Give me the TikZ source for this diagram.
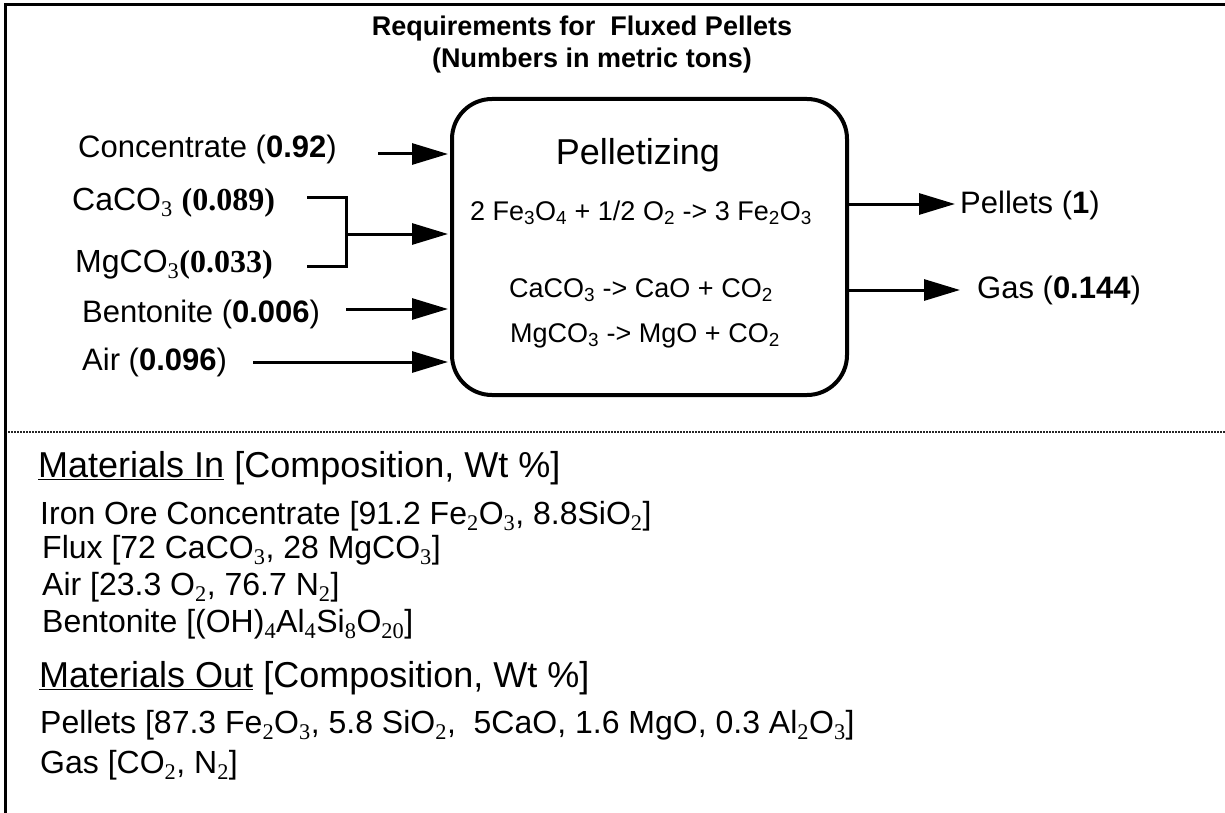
\documentclass[tikz,border=0pt]{standalone}
\usepackage{fontspec}
\setmainfont{Liberation Sans}
\newfontfamily\tms{Liberation Serif}
\usetikzlibrary{arrows.meta}
\newcommand\tsb[1]{\textsubscript{\tms #1}}
\newcommand\asb[1]{\textsubscript{#1}}
\newcommand\fsz[1]{\fontsize{#1}{#1}\selectfont}
\begin{document}
\begin{tikzpicture}[x=1pt,y=-1pt,
  lbl/.style={anchor=base west, inner sep=0pt, font=\fsz{31}},
  itm/.style={anchor=base west, inner sep=0pt, font=\fsz{32}},
  hdr/.style={anchor=base west, inner sep=0pt, font=\fsz{36}},
  rxn/.style={anchor=base, inner sep=0pt, font=\fsz{27}},
  ttl/.style={anchor=base, inner sep=0pt, font=\fsz{27}\bfseries},
  arr/.style={line width=3pt, -{Triangle[length=36pt,width=21pt]}, shorten >=2pt},
  frameline/.style={line width=3.3pt, line join=miter},
  sep/.style={line width=1.3pt, dash pattern=on 2pt off 1pt, black!85},
  procbox/.style={draw, line width=4pt, rounded corners=40pt, minimum width=395pt, minimum height=296pt, inner sep=0pt},
]
\useasboundingbox (0,0) rectangle (1225,813);
\fill[white] (0,0) rectangle (1225,813);

% frame
\draw[frameline] (5.7,813) -- (5.7,4.3) -- (1225,4.3);
% separator
\draw[sep] (8,432) -- (1225,432);

% title
\node[ttl] (t1) at (582,36) {Requirements for\ \ Fluxed Pellets};
\node[ttl] (t2) at (592,68) {(Numbers in metric tons)};

% process box
\node[procbox] (box) at (649.5,247) {};
\node[anchor=base, inner sep=0pt, font=\fsz{36}] (pel) at (638,165) {Pelletizing};
\node[rxn] (r1) at (641,220) {2 Fe\asb{3}O\asb{4} + 1/2 O\asb{2} -> 3 Fe\asb{2}O\asb{3}};
\node[rxn] (r2) at (641,297) {CaCO\asb{3} -> CaO + CO\asb{2}};
\node[rxn] (r3) at (645,342) {MgCO\asb{3} -> MgO + CO\asb{2}};

% inputs
\node[lbl] (conc) at (78,158) {Concentrate (\textbf{0.92})};
\node[lbl, font=\fsz{32}] (caco) at (72,210) {CaCO\tsb{3} {\tms\bfseries (0.089)}};
\node[lbl, font=\fsz{32}] (mgco) at (75,272) {MgCO\tsb{3}{\tms\bfseries (0.033)}};
\node[lbl] (bent) at (82,322) {Bentonite (\textbf{0.006})};
\node[lbl] (air) at (82,370) {Air (\textbf{0.096})};

\coordinate (concS) at (378,154);
\coordinate (brT) at (307,197);
\coordinate (brB) at (307,266);
\coordinate (brX) at (346,234);
\coordinate (bentS) at (346,309);
\coordinate (airS) at (253,362);

\draw[arr] (concS) -- (concS -| box.west);
\draw[line width=3pt] (brT) -| (brX) |- (brB);
\draw[arr] (brX) -- (brX -| box.west);
\draw[arr] (bentS) -- (bentS -| box.west);
\draw[arr] (airS) -- (airS -| box.west);

% outputs
\node[lbl] (pout) at (960,213) {Pellets (\textbf{1})};
\node[lbl] (gout) at (977,298) {Gas (\textbf{0.144})};
\coordinate (pE) at (957,204);
\coordinate (gE) at (962,290);
\draw[arr] (box.east |- pE) -- (pE);
\draw[arr] (box.east |- gE) -- (gE);

% materials
\node[hdr] (min) at (38,477) {\underline{Materials In} [Composition, Wt \%]};
\node[itm] (m1) at (40,524) {Iron Ore Concentrate [91.2 Fe\tsb{2}O\tsb{3}, 8.8SiO\tsb{2}]};
\node[itm] (m2) at (42,558) {Flux [72 CaCO\tsb{3}, 28 MgCO\tsb{3}]};
\node[itm] (m3) at (42,595) {Air [23.3 O\tsb{2}, 76.7 N\tsb{2}]};
\node[itm] (m4) at (42,632) {Bentonite [(OH)\tsb{4}Al\tsb{4}Si\tsb{8}O\tsb{20}]};
\node[hdr] (mout) at (39,687) {\underline{Materials Out} [Composition, Wt \%]};
\node[itm] (o1) at (40,733) {Pellets [87.3 Fe\tsb{2}O\tsb{3}, 5.8 SiO\tsb{2},\ \ 5CaO, 1.6 MgO, 0.3 Al\tsb{2}O\tsb{3}]};
\node[itm] (o2) at (40,773) {Gas [CO\tsb{2}, N\tsb{2}]};
\end{tikzpicture}
\end{document}
